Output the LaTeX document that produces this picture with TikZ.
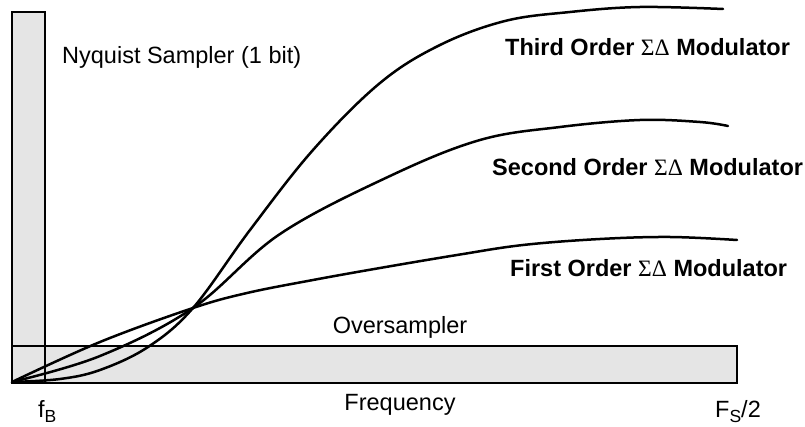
\documentclass[tikz,border=0pt]{standalone}
\usepackage{fontspec}
\setmainfont{Liberation Sans}
\newfontfamily\symfont{Liberation Serif}
\definecolor{bandgray}{HTML}{E5E5E5}
\newcommand{\sigdel}{{\symfont\mdseries ΣΔ}}
\newcommand{\mysub}[1]{\raisebox{-5pt}{\fontsize{17.5}{18}\selectfont #1}}
\begin{document}
\begin{tikzpicture}[x=1pt,y=-1pt,
  curve/.style={line width=2.5pt,line join=round,line cap=round},
  lbl/.style={inner sep=0pt,anchor=base west,font=\fontsize{23.5}{26}\selectfont},
  blbl/.style={lbl,font=\fontsize{23.5}{26}\selectfont\bfseries},
  clbl/.style={inner sep=0pt,anchor=base,font=\fontsize{23.5}{26}\selectfont}]
\useasboundingbox (0,0) rectangle (805,427);
% bands
\fill[bandgray] (12,12) rectangle (45,383);
\fill[bandgray] (12,346) rectangle (737,383);
\draw[line width=1.1pt] (12,12) rectangle (45,383);
\draw[line width=1.1pt] (12,346) rectangle (737,383);
\draw[line width=1.8pt] (12,383) -- (737,383);
% curves
\draw[curve] plot[smooth,tension=0.6] coordinates {(12,382) (100,342) (193,308) (247,293) (313,280) (380,268) (457,255) (523,245) (600,239) (670,237) (737,240)};
\draw[curve] plot[smooth,tension=0.6] coordinates {(12,382) (100,356) (193,308) (280,234) (390,176) (480,140) (560,127) (640,120) (700,122) (728,126)};
\draw[curve] plot[smooth,tension=0.6] coordinates {(12,382) (60,379) (100,370) (148,347) (193,308) (250,230) (313,150) (380,83) (440,45) (505,21) (570,12) (640,7) (723,9)};
% labels
\node[lbl] (nyq) at (62,64) {Nyquist Sampler (1 bit)};
\node[blbl] (third) at (505,56) {Third Order \sigdel\ Modulator};
\node[blbl] (second) at (492,176) {Second Order \sigdel\ Modulator};
\node[blbl] (first) at (510,277) {First Order \sigdel\ Modulator};
\node[clbl] (over) at (400,333) {Oversampler};
\node[clbl] (freq) at (400,410) {Frequency};
\node[lbl] (fb) at (38,417) {f\mysub{B}};
\node[lbl] (fs) at (715,417) {F\mysub{S}/2};
\end{tikzpicture}
\end{document}
